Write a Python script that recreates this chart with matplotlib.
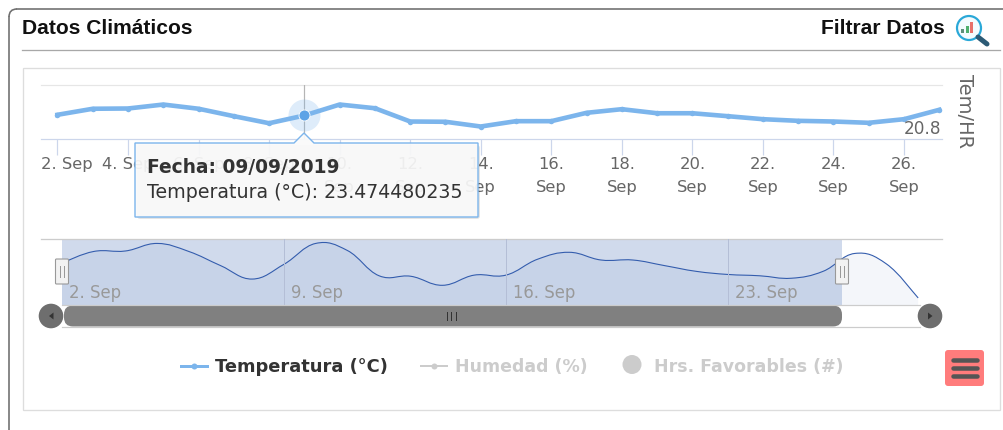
import matplotlib
matplotlib.use("Agg")
import matplotlib.pyplot as plt
import numpy as np
from matplotlib.patches import Circle, FancyBboxPatch, PathPatch, Polygon, Rectangle
from matplotlib.path import Path
from matplotlib.transforms import ScaledTranslation

# ---------- data ----------
days = list(range(2, 28))
temperatura = [23.55, 24.25, 24.28, 24.74, 24.25, 23.39, 22.57, 23.47, 24.74, 24.31,
               22.77, 22.74, 22.19, 22.81, 22.81, 23.78, 24.20, 23.73, 23.73, 23.39,
               23.04, 22.85, 22.77, 22.62, 23.04, 24.13]
nav_days = list(range(2, 30))
nav_temperatura = temperatura + [23.49, 21.42]
tick_days = list(range(2, 28, 2))
tick_labels = ["2. Sep", "4. Sep", "6. Sep", "8. Sep", "10.\nSep", "12.\nSep", "14.\nSep",
               "16.\nSep", "18.\nSep", "20.\nSep", "22.\nSep", "24.\nSep", "26.\nSep"]
nav_tick_days = [2, 9, 16, 23]
nav_tick_labels = ["2. Sep", "9. Sep", "16. Sep", "23. Sep"]
selected_range = [2, 26.6]
hover_day = 9
hover_value = 23.474480235
y_min_label = 20.8

W, H = 1004, 431
PX = 0.72  # 1 px in points at dpi 100
BLUE = "#7CB5EC"
NAVY = "#335CAD"
FONT = "DejaVu Sans"
HEAD = "Liberation Sans"

fig = plt.figure(figsize=(W / 100, H / 100), dpi=100, facecolor="white")


def add_px_axes(left, right, top, bottom, z):
    a = fig.add_axes([left / W, 1 - bottom / H, (right - left) / W, (bottom - top) / H], zorder=z)
    a.patch.set_alpha(0)
    return a


def spline_path(xs, ys):
    # same kind of curve the navigator draws: beziers through the daily points
    xs, ys = np.asarray(xs, float), np.asarray(ys, float)
    verts = [(xs[0], ys[0])]
    codes = [Path.MOVETO]
    for i in range(len(xs) - 1):
        p0 = max(i - 1, 0)
        p3 = min(i + 2, len(xs) - 1)
        verts.append((xs[i] + (xs[i + 1] - xs[p0]) / 5, ys[i] + (ys[i + 1] - ys[p0]) / 5))
        verts.append((xs[i + 1] - (xs[p3] - xs[i]) / 5, ys[i + 1] - (ys[p3] - ys[i]) / 5))
        verts.append((xs[i + 1], ys[i + 1]))
        codes += [Path.CURVE4] * 3
    return verts, codes


# ---------- page furniture, pixel coordinates ----------
bg = add_px_axes(0, W, 0, H, 0)
bg.set_xlim(0, W)
bg.set_ylim(H, 0)
bg.axis("off")
bg.plot([9, 9], [H, 18], color="#6E6E6E", lw=1.6 * PX)
bg.plot([17, W], [10, 10], color="#6E6E6E", lw=1.6 * PX)
bg.add_patch(PathPatch(Path([(9, 18), (9, 10), (17, 10)], [Path.MOVETO, Path.CURVE3, Path.CURVE3]),
                       fc="none", ec="#6E6E6E", lw=1.6 * PX))
bg.plot([22, 1000], [51, 51], color="#A8A8A8", lw=1.3 * PX)
bg.add_patch(Rectangle((23, 69), 977, 342, fc="white", ec="#DDDDDD", lw=1.3 * PX))
bg.text(22, 28.5, "Datos Climáticos", family=HEAD, weight="bold", fontsize=15.1, color="#111111", va="center")
bg.text(945, 28.5, "Filtrar Datos", family=HEAD, weight="bold", fontsize=15.1, color="#111111", va="center", ha="right")

# search icon
bg.plot([978, 987], [38, 45], color="#2C5A75", lw=5 * PX, solid_capstyle="round")
bg.add_patch(Circle((969, 29), 12, fc="#F4FBFE", ec="#2AA8D8", lw=2.2 * PX))
bg.add_patch(Rectangle((961.5, 30), 3, 4, fc="#5F8F7A", lw=0))
bg.add_patch(Rectangle((966, 27), 3, 7, fc="#4FB06D", lw=0))
bg.add_patch(Rectangle((970.5, 23), 3, 11, fc="#E8706A", lw=0))

# legend
bg.plot([181, 207], [367, 367], color=BLUE, lw=3 * PX)
bg.plot([194], [367], "o", color=BLUE, ms=6 * PX, mew=0)
bg.text(215, 367, "Temperatura (°C)", family=FONT, weight="bold", fontsize=12.9, color="#333333", va="center")
bg.plot([421, 447], [367, 367], color="#CCCCCC", lw=2 * PX)
bg.plot([434], [367], "o", color="#CCCCCC", ms=6 * PX, mew=0)
bg.text(455, 367, "Humedad (%)", family=FONT, weight="bold", fontsize=12.55, color="#CCCCCC", va="center")
bg.add_patch(Circle((632, 365.5), 9.5, fc="#CCCCCC", lw=0))
bg.text(654, 367, "Hrs. Favorables (#)", family=FONT, weight="bold", fontsize=12.55, color="#CCCCCC", va="center")

# menu button
bg.add_patch(FancyBboxPatch((945, 351), 39, 36, boxstyle="round,pad=0,rounding_size=3", fc="#FF7C7C", lw=0))
for by in [361, 369, 377]:
    bg.plot([953, 977], [by, by], color="#555555", lw=4.5 * PX, solid_capstyle="round")

# ---------- main chart ----------
px_day = 35.27
ax = add_px_axes(41, 942, 85.5, 139.5, 2)
ax.set_xlim(2 - (57.5 - 41) / px_day, 2 + (942 - 57.5) / px_day)
ax.set_ylim(y_min_label, y_min_label + 54 * 0.116)
for s in ["top", "left", "right"]:
    ax.spines[s].set_visible(False)
ax.spines["bottom"].set_color("#CCD6EB")
ax.spines["bottom"].set_linewidth(1.2 * PX)
ax.axhline(ax.get_ylim()[1], color="#E6E6E6", lw=1.2 * PX, clip_on=False)
ax.set_yticks([])
ax.set_xticks(tick_days)
ax.set_xticklabels(tick_labels, family=FONT, fontsize=11.8, color="#666666", linespacing=1.68, va="top")
ax.tick_params(axis="x", length=16 * PX, width=1.2 * PX, color="#CCD6EB", pad=1.2)
# the first label is pushed right so it stays inside the plot area
first = ax.get_xticklabels()[0]
first.set_transform(first.get_transform() + ScaledTranslation(9.5 / 100, 0, fig.dpi_scale_trans))
ax.axvline(hover_day, color="#B5B5B5", lw=1.2 * PX)
ax.plot(days, temperatura, color=BLUE, lw=4.6 * PX, marker="o", ms=5.5 * PX, mew=0, solid_joinstyle="round")
ax.plot([hover_day], [hover_value], "o", color=BLUE, alpha=0.25, ms=32 * PX, mew=0, clip_on=False)
ax.plot([hover_day], [hover_value], "o", color=BLUE, ms=11 * PX, mfc="#5EA3E6", mec="white", mew=0.6, clip_on=False)
ax.text(941, 129, f"{y_min_label}", transform=bg.transData, family=FONT, fontsize=12.2, color="#666666",
        ha="right", va="center")
ax.text(965, 111.5, "Tem/HR", transform=bg.transData, family=FONT, fontsize=14, color="#666666",
        rotation=270, ha="center", va="center")

# ---------- navigator ----------
nav_px = 31.71
nav = add_px_axes(41, 942, 240, 306, 2)
nav.set_xlim(2 - (62 - 41) / nav_px, 2 + (942 - 62) / nav_px)
nav.set_ylim(20.99, 25.01)
nav.axis("off")
nav.axhline(25.01, color="#CCCCCC", lw=1.3 * PX, clip_on=False)
nav.axvspan(selected_range[0], selected_range[1], fc="#6685C2", alpha=0.3, lw=0)
for d, lab in zip(nav_tick_days, nav_tick_labels):
    if d != nav_tick_days[0]:
        nav.axvline(d, color="#B4BED6", lw=1 * PX)
    nav.text(d + 7 / nav_px, 21.77, lab, family=FONT, fontsize=11.9, color="#999999", va="center", ha="left")
v, c = spline_path(nav_days, nav_temperatura)
fill_v = v + [(nav_days[-1], 20.99), (nav_days[0], 20.99), (nav_days[0], 20.99)]
fill_c = c + [Path.LINETO, Path.LINETO, Path.CLOSEPOLY]
nav.add_patch(PathPatch(Path(fill_v, fill_c), fc=NAVY, alpha=0.05, lw=0))
nav.add_patch(PathPatch(Path(v, c), fc="none", ec=NAVY, lw=1.1 * PX))

# ---------- scrollbar and handles, pixel coordinates ----------
top = add_px_axes(0, W, 0, H, 3)
top.set_xlim(0, W)
top.set_ylim(H, 0)
top.axis("off")
top.plot([62, 920], [306, 306], color="#CCCCCC", lw=1.2 * PX)
top.plot([62, 920], [328, 328], color="#CCCCCC", lw=1.2 * PX)
top.add_patch(FancyBboxPatch((64, 306.5), 778, 21, boxstyle="round,pad=0,rounding_size=9", fc="#808080", lw=0))
for rx in [447, 451.5, 456]:
    top.plot([rx, rx], [313, 321], color="#333333", lw=1 * PX)
top.add_patch(Circle((51, 317), 12.3, fc="#6E6E6E", lw=0))
top.add_patch(Circle((930, 317), 12.3, fc="#6E6E6E", lw=0))
top.add_patch(Polygon([(53.5, 313.5), (53.5, 320.5), (49, 317)], fc="#333333", lw=0))
top.add_patch(Polygon([(928, 313.5), (928, 320.5), (932.5, 317)], fc="#333333", lw=0))
for hx in [62, 842]:
    top.add_patch(FancyBboxPatch((hx - 6.5, 260), 13, 25, boxstyle="round,pad=0,rounding_size=1",
                                 fc="#F2F2F2", ec="#999999", lw=1.1 * PX))
    for dx in [-1.8, 1.8]:
        top.plot([hx + dx, hx + dx], [267, 278], color="#999999", lw=1 * PX)

# ---------- tooltip ----------
top.add_patch(FancyBboxPatch((137, 146), 343, 74, boxstyle="round,pad=0,rounding_size=3",
                             fc="black", alpha=0.10, lw=0))
tip = [(135, 144), (294, 144), (304, 134), (314, 144), (478, 144), (478, 218), (135, 218), (135, 144)]
top.add_patch(Polygon(tip, closed=True, fc="#FAFAFA", alpha=0.92, lw=0))
top.add_patch(Polygon(tip, closed=True, fc="none", ec=BLUE, lw=1.4 * PX))
top.text(147, 168, "Fecha: 09/09/2019", family=FONT, weight="bold", fontsize=13.4, color="#333333", va="center")
top.text(147, 193, f"Temperatura (°C): {hover_value}", family=FONT, fontsize=13.7, color="#333333", va="center")

fig.savefig("out.png", dpi=100)
